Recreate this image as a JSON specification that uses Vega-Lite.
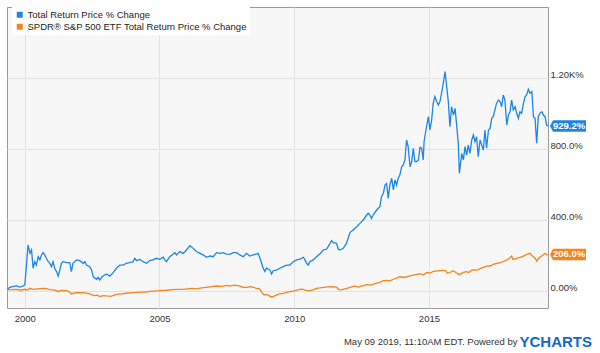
{
  "$schema": "https://vega.github.io/schema/vega-lite/v6.json",
  "width": 541,
  "height": 301,
  "autosize": {"type": "none"},
  "padding": {"left": 7, "top": 7, "right": 52, "bottom": 45},
  "background": "white",
  "config": {
    "font": "Liberation Sans",
    "view": {"fill": "#f7f7f7", "stroke": "#9a9a9a", "strokeWidth": 1}
  },
  "title": {
    "text": "YCHARTS",
    "orient": "bottom",
    "anchor": "end",
    "frame": "group",
    "fontSize": 15,
    "fontWeight": "bold",
    "color": "#1668c6",
    "font": "Liberation Sans",
    "offset": 0,
    "dx": 44,
    "dy": -11
  },
  "datasets": {
    "blue": [
      {"year": 1999.34, "value": 5.6}, {"year": 1999.44, "value": 20.7}, {"year": 1999.55, "value": 24}, {"year": 1999.69, "value": 28.2},
      {"year": 1999.82, "value": 22}, {"year": 1999.94, "value": 28.2}, {"year": 2000.0, "value": 33.8}, {"year": 2000.06, "value": 140},
      {"year": 2000.12, "value": 259}, {"year": 2000.19, "value": 212}, {"year": 2000.25, "value": 231}, {"year": 2000.31, "value": 128},
      {"year": 2000.37, "value": 165}, {"year": 2000.43, "value": 146}, {"year": 2000.5, "value": 193}, {"year": 2000.56, "value": 175},
      {"year": 2000.62, "value": 203}, {"year": 2000.68, "value": 216}, {"year": 2000.74, "value": 203}, {"year": 2000.8, "value": 184},
      {"year": 2000.87, "value": 165}, {"year": 2000.93, "value": 156}, {"year": 2000.99, "value": 137}, {"year": 2001.05, "value": 165},
      {"year": 2001.11, "value": 128}, {"year": 2001.18, "value": 109}, {"year": 2001.24, "value": 84}, {"year": 2001.3, "value": 118},
      {"year": 2001.36, "value": 156}, {"year": 2001.42, "value": 165}, {"year": 2001.55, "value": 160}, {"year": 2001.67, "value": 160},
      {"year": 2001.73, "value": 109}, {"year": 2001.79, "value": 156}, {"year": 2001.92, "value": 175}, {"year": 2002.04, "value": 171},
      {"year": 2002.17, "value": 156}, {"year": 2002.23, "value": 165}, {"year": 2002.29, "value": 146}, {"year": 2002.41, "value": 137},
      {"year": 2002.48, "value": 118}, {"year": 2002.54, "value": 81}, {"year": 2002.66, "value": 66}, {"year": 2002.72, "value": 77},
      {"year": 2002.78, "value": 62}, {"year": 2002.85, "value": 77}, {"year": 2002.91, "value": 84}, {"year": 2003.03, "value": 96},
      {"year": 2003.16, "value": 84}, {"year": 2003.28, "value": 103}, {"year": 2003.4, "value": 128}, {"year": 2003.53, "value": 146},
      {"year": 2003.65, "value": 146}, {"year": 2003.77, "value": 156}, {"year": 2003.9, "value": 160}, {"year": 2004.02, "value": 165},
      {"year": 2004.08, "value": 184}, {"year": 2004.15, "value": 171}, {"year": 2004.27, "value": 178}, {"year": 2004.39, "value": 165},
      {"year": 2004.52, "value": 156}, {"year": 2004.64, "value": 171}, {"year": 2004.76, "value": 175}, {"year": 2004.89, "value": 184},
      {"year": 2005.01, "value": 178}, {"year": 2005.14, "value": 190}, {"year": 2005.2, "value": 175}, {"year": 2005.26, "value": 165},
      {"year": 2005.38, "value": 193}, {"year": 2005.51, "value": 208}, {"year": 2005.57, "value": 216}, {"year": 2005.63, "value": 203},
      {"year": 2005.75, "value": 222}, {"year": 2005.88, "value": 212}, {"year": 2006.0, "value": 231}, {"year": 2006.13, "value": 255},
      {"year": 2006.25, "value": 240}, {"year": 2006.37, "value": 222}, {"year": 2006.5, "value": 212}, {"year": 2006.62, "value": 203},
      {"year": 2006.75, "value": 190}, {"year": 2006.87, "value": 197}, {"year": 2006.99, "value": 193}, {"year": 2007.12, "value": 216},
      {"year": 2007.24, "value": 212}, {"year": 2007.36, "value": 216}, {"year": 2007.49, "value": 208}, {"year": 2007.61, "value": 206},
      {"year": 2007.74, "value": 216}, {"year": 2007.86, "value": 216}, {"year": 2007.98, "value": 203}, {"year": 2008.11, "value": 193},
      {"year": 2008.23, "value": 212}, {"year": 2008.35, "value": 197}, {"year": 2008.48, "value": 203}, {"year": 2008.6, "value": 208},
      {"year": 2008.66, "value": 212}, {"year": 2008.73, "value": 184}, {"year": 2008.85, "value": 128}, {"year": 2008.91, "value": 109},
      {"year": 2008.97, "value": 128}, {"year": 2009.1, "value": 118}, {"year": 2009.16, "value": 96}, {"year": 2009.22, "value": 114},
      {"year": 2009.34, "value": 118}, {"year": 2009.47, "value": 128}, {"year": 2009.59, "value": 137}, {"year": 2009.72, "value": 146},
      {"year": 2009.84, "value": 146}, {"year": 2009.96, "value": 165}, {"year": 2010.09, "value": 175}, {"year": 2010.21, "value": 180},
      {"year": 2010.34, "value": 190}, {"year": 2010.4, "value": 175}, {"year": 2010.46, "value": 156}, {"year": 2010.52, "value": 146},
      {"year": 2010.58, "value": 165}, {"year": 2010.71, "value": 175}, {"year": 2010.83, "value": 193}, {"year": 2010.95, "value": 208},
      {"year": 2011.08, "value": 231}, {"year": 2011.2, "value": 235}, {"year": 2011.33, "value": 268}, {"year": 2011.39, "value": 283},
      {"year": 2011.45, "value": 272}, {"year": 2011.57, "value": 268}, {"year": 2011.64, "value": 235}, {"year": 2011.7, "value": 231},
      {"year": 2011.82, "value": 240}, {"year": 2011.94, "value": 268}, {"year": 2012.07, "value": 329}, {"year": 2012.19, "value": 344},
      {"year": 2012.32, "value": 362}, {"year": 2012.44, "value": 381}, {"year": 2012.56, "value": 400}, {"year": 2012.69, "value": 428},
      {"year": 2012.75, "value": 438}, {"year": 2012.81, "value": 428}, {"year": 2012.87, "value": 409}, {"year": 2012.93, "value": 428},
      {"year": 2013.06, "value": 456}, {"year": 2013.18, "value": 475}, {"year": 2013.24, "value": 531}, {"year": 2013.31, "value": 550},
      {"year": 2013.37, "value": 597}, {"year": 2013.43, "value": 606}, {"year": 2013.49, "value": 522}, {"year": 2013.55, "value": 597},
      {"year": 2013.62, "value": 635}, {"year": 2013.68, "value": 569}, {"year": 2013.74, "value": 625}, {"year": 2013.8, "value": 597},
      {"year": 2013.86, "value": 635}, {"year": 2013.92, "value": 653}, {"year": 2013.99, "value": 700}, {"year": 2014.05, "value": 710},
      {"year": 2014.11, "value": 738}, {"year": 2014.17, "value": 851}, {"year": 2014.23, "value": 813}, {"year": 2014.3, "value": 700},
      {"year": 2014.36, "value": 729}, {"year": 2014.42, "value": 804}, {"year": 2014.48, "value": 729}, {"year": 2014.54, "value": 729},
      {"year": 2014.61, "value": 738}, {"year": 2014.67, "value": 809}, {"year": 2014.73, "value": 804}, {"year": 2014.79, "value": 738},
      {"year": 2014.82, "value": 841}, {"year": 2014.89, "value": 907}, {"year": 2014.98, "value": 982}, {"year": 2015.04, "value": 907},
      {"year": 2015.1, "value": 963}, {"year": 2015.16, "value": 1057}, {"year": 2015.22, "value": 1095}, {"year": 2015.29, "value": 1067},
      {"year": 2015.35, "value": 1048}, {"year": 2015.41, "value": 1067}, {"year": 2015.47, "value": 1114}, {"year": 2015.53, "value": 1170},
      {"year": 2015.6, "value": 1236}, {"year": 2015.66, "value": 1151}, {"year": 2015.72, "value": 1067}, {"year": 2015.78, "value": 926},
      {"year": 2015.84, "value": 1038}, {"year": 2015.91, "value": 991}, {"year": 2015.97, "value": 1029}, {"year": 2016.03, "value": 935},
      {"year": 2016.09, "value": 832}, {"year": 2016.13, "value": 663}, {"year": 2016.22, "value": 775}, {"year": 2016.28, "value": 738},
      {"year": 2016.34, "value": 813}, {"year": 2016.4, "value": 766}, {"year": 2016.46, "value": 822}, {"year": 2016.52, "value": 775},
      {"year": 2016.59, "value": 851}, {"year": 2016.65, "value": 879}, {"year": 2016.71, "value": 841}, {"year": 2016.77, "value": 869},
      {"year": 2016.83, "value": 757}, {"year": 2016.9, "value": 851}, {"year": 2016.96, "value": 822}, {"year": 2017.02, "value": 794},
      {"year": 2017.08, "value": 907}, {"year": 2017.14, "value": 804}, {"year": 2017.21, "value": 907}, {"year": 2017.27, "value": 916},
      {"year": 2017.33, "value": 973}, {"year": 2017.39, "value": 982}, {"year": 2017.45, "value": 1020}, {"year": 2017.51, "value": 1057},
      {"year": 2017.58, "value": 1076}, {"year": 2017.64, "value": 1067}, {"year": 2017.7, "value": 1038}, {"year": 2017.76, "value": 1104},
      {"year": 2017.82, "value": 1076}, {"year": 2017.89, "value": 935}, {"year": 2017.95, "value": 991}, {"year": 2018.01, "value": 1010},
      {"year": 2018.07, "value": 1076}, {"year": 2018.13, "value": 1020}, {"year": 2018.2, "value": 1038}, {"year": 2018.26, "value": 1001},
      {"year": 2018.32, "value": 973}, {"year": 2018.38, "value": 1010}, {"year": 2018.44, "value": 1001}, {"year": 2018.51, "value": 1057},
      {"year": 2018.57, "value": 1095}, {"year": 2018.63, "value": 1104}, {"year": 2018.69, "value": 1136}, {"year": 2018.75, "value": 1114},
      {"year": 2018.82, "value": 1123}, {"year": 2018.88, "value": 982}, {"year": 2018.94, "value": 973}, {"year": 2019.0, "value": 832},
      {"year": 2019.06, "value": 982}, {"year": 2019.12, "value": 1001}, {"year": 2019.19, "value": 1010}, {"year": 2019.25, "value": 991},
      {"year": 2019.31, "value": 982}, {"year": 2019.37, "value": 935}, {"year": 2019.42, "value": 929.2}
    ],
    "spy": [
      {"year": 1999.34, "value": 5.6}, {"year": 1999.5, "value": 8}, {"year": 1999.69, "value": 9.4}, {"year": 1999.85, "value": 4},
      {"year": 2000.0, "value": 9.4}, {"year": 2000.1, "value": 5}, {"year": 2000.19, "value": 15}, {"year": 2000.31, "value": 9.4},
      {"year": 2000.45, "value": 11}, {"year": 2000.56, "value": 13}, {"year": 2000.68, "value": 14}, {"year": 2000.8, "value": 13},
      {"year": 2000.92, "value": 8}, {"year": 2001.05, "value": 5.6}, {"year": 2001.15, "value": 3}, {"year": 2001.24, "value": -4},
      {"year": 2001.3, "value": 1.9}, {"year": 2001.42, "value": 3}, {"year": 2001.55, "value": 1.9}, {"year": 2001.65, "value": -5},
      {"year": 2001.73, "value": -17}, {"year": 2001.82, "value": -12}, {"year": 2001.92, "value": -9.4}, {"year": 2002.05, "value": -10},
      {"year": 2002.17, "value": -9.4}, {"year": 2002.3, "value": -12}, {"year": 2002.41, "value": -17}, {"year": 2002.52, "value": -24},
      {"year": 2002.6, "value": -26}, {"year": 2002.7, "value": -24}, {"year": 2002.78, "value": -32}, {"year": 2002.9, "value": -26},
      {"year": 2003.03, "value": -28}, {"year": 2003.2, "value": -30}, {"year": 2003.4, "value": -19}, {"year": 2003.6, "value": -16},
      {"year": 2003.77, "value": -13}, {"year": 2004.02, "value": -9.4}, {"year": 2004.3, "value": -7}, {"year": 2004.5, "value": -6},
      {"year": 2004.64, "value": -2}, {"year": 2004.9, "value": 1}, {"year": 2005.1, "value": 3}, {"year": 2005.26, "value": 4},
      {"year": 2005.5, "value": 7}, {"year": 2005.7, "value": 9}, {"year": 2005.88, "value": 9.4}, {"year": 2006.2, "value": 15},
      {"year": 2006.4, "value": 12}, {"year": 2006.5, "value": 16}, {"year": 2006.8, "value": 22}, {"year": 2007.12, "value": 28},
      {"year": 2007.3, "value": 26}, {"year": 2007.5, "value": 31}, {"year": 2007.6, "value": 27}, {"year": 2007.78, "value": 33},
      {"year": 2007.95, "value": 29}, {"year": 2008.1, "value": 21}, {"year": 2008.23, "value": 20}, {"year": 2008.4, "value": 24},
      {"year": 2008.6, "value": 15}, {"year": 2008.72, "value": 12}, {"year": 2008.8, "value": -10}, {"year": 2008.88, "value": -23},
      {"year": 2008.96, "value": -20}, {"year": 2009.05, "value": -25}, {"year": 2009.16, "value": -35}, {"year": 2009.3, "value": -26},
      {"year": 2009.45, "value": -17}, {"year": 2009.59, "value": -13}, {"year": 2009.72, "value": -8}, {"year": 2009.84, "value": -4},
      {"year": 2010.0, "value": 1}, {"year": 2010.21, "value": 9}, {"year": 2010.3, "value": 10}, {"year": 2010.46, "value": 2},
      {"year": 2010.58, "value": 1.8}, {"year": 2010.7, "value": 6}, {"year": 2010.83, "value": 15}, {"year": 2010.95, "value": 17},
      {"year": 2011.08, "value": 20.6}, {"year": 2011.25, "value": 23}, {"year": 2011.45, "value": 24}, {"year": 2011.58, "value": 20},
      {"year": 2011.65, "value": 8}, {"year": 2011.75, "value": 6}, {"year": 2011.82, "value": 9.3}, {"year": 2011.95, "value": 14},
      {"year": 2012.07, "value": 20.6}, {"year": 2012.25, "value": 27}, {"year": 2012.4, "value": 22}, {"year": 2012.55, "value": 30},
      {"year": 2012.69, "value": 36}, {"year": 2012.85, "value": 33}, {"year": 2013.06, "value": 44}, {"year": 2013.2, "value": 50},
      {"year": 2013.31, "value": 58}, {"year": 2013.45, "value": 60}, {"year": 2013.55, "value": 57}, {"year": 2013.68, "value": 66},
      {"year": 2013.8, "value": 72}, {"year": 2013.92, "value": 80}, {"year": 2014.08, "value": 76}, {"year": 2014.3, "value": 85},
      {"year": 2014.5, "value": 92}, {"year": 2014.67, "value": 97}, {"year": 2014.79, "value": 90}, {"year": 2014.92, "value": 104},
      {"year": 2015.05, "value": 101}, {"year": 2015.16, "value": 110}, {"year": 2015.35, "value": 113}, {"year": 2015.53, "value": 116},
      {"year": 2015.63, "value": 114}, {"year": 2015.68, "value": 100}, {"year": 2015.78, "value": 104}, {"year": 2015.9, "value": 114},
      {"year": 2016.03, "value": 101}, {"year": 2016.12, "value": 92}, {"year": 2016.28, "value": 105}, {"year": 2016.4, "value": 109},
      {"year": 2016.48, "value": 104}, {"year": 2016.6, "value": 118}, {"year": 2016.8, "value": 117}, {"year": 2016.92, "value": 127},
      {"year": 2017.14, "value": 140}, {"year": 2017.3, "value": 142}, {"year": 2017.39, "value": 150}, {"year": 2017.64, "value": 159},
      {"year": 2017.8, "value": 168}, {"year": 2017.95, "value": 180}, {"year": 2018.07, "value": 196}, {"year": 2018.12, "value": 178},
      {"year": 2018.26, "value": 183}, {"year": 2018.44, "value": 192}, {"year": 2018.6, "value": 203}, {"year": 2018.75, "value": 212},
      {"year": 2018.85, "value": 196}, {"year": 2018.95, "value": 185}, {"year": 2019.0, "value": 168}, {"year": 2019.1, "value": 188},
      {"year": 2019.2, "value": 198}, {"year": 2019.31, "value": 212}, {"year": 2019.38, "value": 204}, {"year": 2019.42, "value": 206}
    ],
    "tags": [
      {"year": 2019.42, "value": 929.2, "series": "Total Return Price % Change", "label": "929.2%"},
      {"year": 2019.42, "value": 206.0, "series": "SPDR® S&P 500 ETF Total Return Price % Change", "label": "206.0%"}
    ]
  },
  "layer": [
    {
      "data": {"name": "blue"},
      "mark": {"type": "line", "strokeWidth": 1.3, "clip": true},
      "encoding": {
        "x": {
          "field": "year", "type": "quantitative",
          "scale": {"domain": [1999.34, 2019.42], "nice": false, "zero": false},
          "axis": {
            "values": [2000, 2005, 2010, 2015], "format": "d",
            "grid": true, "gridColor": "#e3e3e3", "ticks": false, "domain": false,
            "labelFontSize": 9.5, "labelColor": "#333333", "labelPadding": 5,
            "title": "May 09 2019, 11:10AM EDT.  Powered by",
            "titleFontSize": 9.5, "titleFontWeight": "normal", "titleColor": "#333333",
            "titleAlign": "right", "titleAnchor": "end", "titleX": 510, "titleY": 36, "titleBaseline": "alphabetic"
          }
        },
        "y": {
          "field": "value", "type": "quantitative",
          "scale": {"domain": [-96, 1600], "nice": false, "zero": false},
          "axis": {
            "orient": "right", "values": [0, 400, 800, 1200],
            "labelExpr": "datum.value == 1200 ? '1.20K%' : (datum.value == 0 ? '0.00%' : format(datum.value, '.1f') + '%')",
            "grid": true, "gridColor": "#e3e3e3", "ticks": false, "domain": false,
            "labelFontSize": 9.5, "labelColor": "#333333", "labelPadding": 2,
            "labelBaseline": "alphabetic", "labelAlign": "left", "title": null
          }
        },
        "color": {
          "datum": "Total Return Price % Change", "type": "nominal",
          "scale": {
            "domain": ["Total Return Price % Change", "SPDR® S&P 500 ETF Total Return Price % Change"],
            "range": ["#1c86e6", "#f7841c"]
          },
          "legend": {
            "title": null, "orient": "none", "legendX": 5, "legendY": 0, "padding": 3,
            "fillColor": "#ffffff", "symbolType": "square", "symbolSize": 36,
            "symbolStrokeWidth": 0, "labelFontSize": 9.5, "labelColor": "#222222",
            "labelOffset": 3, "rowPadding": 1, "labelLimit": 400
          }
        }
      }
    },
    {
      "data": {"name": "spy"},
      "mark": {"type": "line", "strokeWidth": 1.3, "clip": true},
      "encoding": {
        "x": {"field": "year", "type": "quantitative"},
        "y": {"field": "value", "type": "quantitative"},
        "color": {"datum": "SPDR® S&P 500 ETF Total Return Price % Change", "type": "nominal"}
      }
    },
    {
      "data": {"name": "tags"},
      "mark": {
        "type": "point", "filled": true, "opacity": 1, "strokeWidth": 0,
        "shape": "M-1,0L-0.83,-0.32L1,-0.32L1,0.32L-0.83,0.32Z",
        "size": 1296, "xOffset": 20
      },
      "encoding": {
        "x": {"field": "year", "type": "quantitative"},
        "y": {"field": "value", "type": "quantitative"},
        "color": {"field": "series", "type": "nominal", "legend": null}
      }
    },
    {
      "data": {"name": "tags"},
      "mark": {"type": "text", "color": "white", "fontSize": 9.5, "fontWeight": "bold", "xOffset": 21, "align": "center", "baseline": "middle"},
      "encoding": {
        "x": {"field": "year", "type": "quantitative"},
        "y": {"field": "value", "type": "quantitative"},
        "text": {"field": "label"}
      }
    }
  ]
}
